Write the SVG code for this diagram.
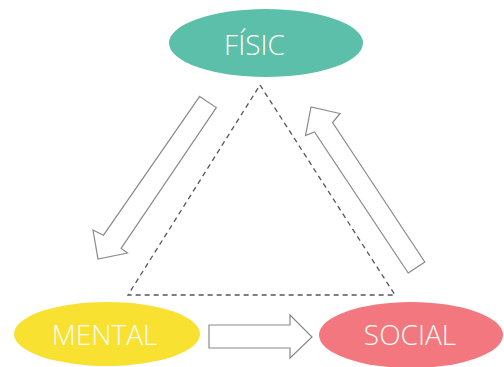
<svg xmlns="http://www.w3.org/2000/svg" width="504" height="367" viewBox="0 0 504 367">
<style>
.lbl{font-family:"Open Sans","Liberation Sans",sans-serif;font-size:28px;font-weight:300;fill:#fdfdf5}
.arr{fill:#fff;stroke:#8a8a8a;stroke-width:1.2;stroke-linejoin:miter}
.dash{fill:none;stroke:#555;stroke-width:1.3;stroke-dasharray:5 4}
</style>
<rect width="504" height="367" fill="#fff"/>
<g id="connectors">
<polygon class="dash" points="260,85 395,295 128,295"/>
<polygon class="arr" points="199.7,96.4 216.3,107.6 121.1,248.4 127.5,253 98,259 93,230 103.5,235.2"/>
<polygon class="arr" points="408.2,273 424.8,262 332.6,122.5 340,113.5 311,107 305.5,135.5 314.5,132"/>
<polygon class="arr" points="209,325 290,325 290,315 312,337 290,358 290,348 209,348"/>
</g>
<g id="fisic">
<ellipse cx="266" cy="43" rx="97" ry="34" fill="#5cbfa9"/>
<text class="lbl" x="254.5" y="55" text-anchor="middle">FÍSIC</text>
</g>
<g id="mental">
<ellipse cx="107" cy="334" rx="93" ry="32" fill="#f8e131"/>
<text class="lbl" x="104.5" y="345" text-anchor="middle">MENTAL</text>
</g>
<g id="social">
<ellipse cx="411" cy="335" rx="92" ry="33" fill="#f2777e"/>
<text class="lbl" x="410" y="345" text-anchor="middle">SOCIAL</text>
</g>
</svg>
